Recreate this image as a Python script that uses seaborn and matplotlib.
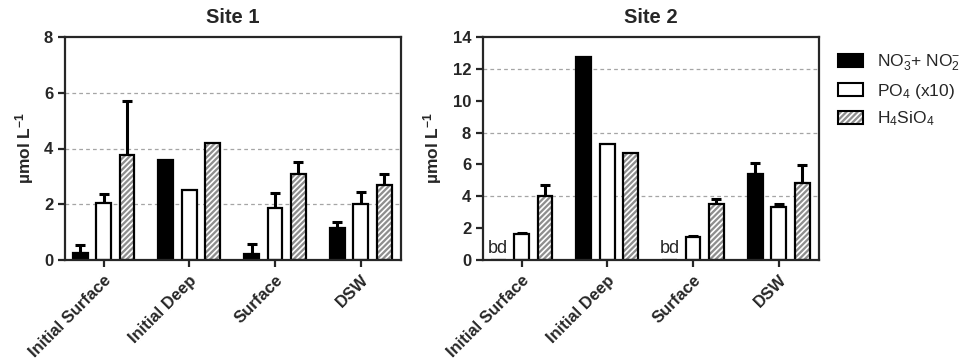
import numpy as np
import pandas as pd
import matplotlib
matplotlib.use("Agg")
import matplotlib.pyplot as plt
from matplotlib.patches import Patch, Rectangle
import seaborn as sns

# ---------------- data ----------------
categories = ["Initial Surface", "Initial Deep", "Surface", "DSW"]
nutrients = ["NO3", "PO4", "Si"]
legend_labels = [r"NO$_3^{-}$+ NO$_2^{-}$", "PO$_4$ (x10)", "H$_4$SiO$_4$"]

site1_no3 = [0.25, 3.60, 0.20, 1.14]
site1_po4 = [2.05, 2.50, 1.85, 2.00]
site1_si = [3.75, 4.20, 3.10, 2.69]
site1_no3_err = [0.30, 0.0, 0.38, 0.22]
site1_po4_err = [0.30, 0.0, 0.55, 0.43]
site1_si_err = [1.95, 0.0, 0.40, 0.39]

site2_no3 = [0.0, 12.76, 0.0, 5.40]
site2_po4 = [1.61, 7.26, 1.42, 3.31]
site2_si = [4.02, 6.74, 3.50, 4.85]
site2_no3_err = [0.0, 0.0, 0.0, 0.70]
site2_po4_err = [0.11, 0.0, 0.10, 0.19]
site2_si_err = [0.68, 0.0, 0.31, 1.11]
site2_bd = [True, False, True, False]  # below detection for NO3

titles = ["Site 1", "Site 2"]
ymax = [8, 14]
grid_lines = [[2, 4, 6], [4, 8, 12]]


def make_df(no3, po4, si, e1, e2, e3):
    rows = []
    for vals, errs, nut in [(no3, e1, "NO3"), (po4, e2, "PO4"), (si, e3, "Si")]:
        for c, v, e in zip(categories, vals, errs):
            rows.append(dict(category=c, nutrient=nut, value=v, err=e))
    return pd.DataFrame(rows)


dfs = [
    make_df(site1_no3, site1_po4, site1_si, site1_no3_err, site1_po4_err, site1_si_err),
    make_df(site2_no3, site2_po4, site2_si, site2_no3_err, site2_po4_err, site2_si_err),
]

# ---------------- style ----------------
sns.set_style("ticks")
plt.rcParams["font.family"] = ["Liberation Sans", "DejaVu Sans"]
plt.rcParams["mathtext.fontset"] = "custom"
plt.rcParams["mathtext.rm"] = "Liberation Sans"
plt.rcParams["mathtext.it"] = "Liberation Sans:italic"
plt.rcParams["mathtext.bf"] = "Liberation Sans:bold"
plt.rcParams["mathtext.default"] = "regular"
plt.rcParams["hatch.linewidth"] = 1.2

HATCH_FACE = "#8e8e8e"
palette = {"NO3": "black", "PO4": "white", "Si": HATCH_FACE}

fig = plt.figure(figsize=(9.79, 3.64), dpi=100)
ax_pos = [[65 / 979, 104 / 364, 336 / 979, 223 / 364],
          [483 / 979, 104 / 364, 336 / 979, 223 / 364]]

for k in range(2):
    ax = fig.add_axes(ax_pos[k])
    df = dfs[k]
    sns.barplot(data=df, x="category", y="value", hue="nutrient",
                hue_order=nutrients, order=categories, palette=palette,
                width=0.82, gap=0.36, errorbar=None, legend=False,
                edgecolor="black", linewidth=1.6, ax=ax, zorder=3)

    # hatching on the silicate bars: gray face, white stripes, black outline
    for bar in ax.containers[2]:
        bar.set_hatch("//////")
        bar.set_edgecolor("white")
        bar.set_linewidth(0)
        ax.add_patch(Rectangle(bar.get_xy(), bar.get_width(), bar.get_height(),
                               fill=False, edgecolor="black", linewidth=1.6, zorder=4))

    # error bars (upper only)
    for i, nut in enumerate(nutrients):
        sub = df[df.nutrient == nut].set_index("category").loc[categories]
        for bar, v, e in zip(ax.containers[i], sub["value"], sub["err"]):
            if e > 0:
                x = bar.get_x() + bar.get_width() / 2
                ax.errorbar(x, v, yerr=[[0], [e]], fmt="none", ecolor="black",
                            elinewidth=2.2, capsize=3.5, capthick=2.2, zorder=2)

    # grid lines
    for g in grid_lines[k]:
        ax.axhline(g, color="#a5a5a5", linestyle=(0, (3, 2.5)), linewidth=0.9, zorder=1)

    if k == 1:
        for bar, bd in zip(ax.containers[0], site2_bd):
            if bd:
                ax.text(bar.get_x() + bar.get_width() / 2, 0.2, "bd",
                        ha="center", va="bottom", fontsize=13)

    ax.set_xlim(-0.45, 3.47)
    ax.set_ylim(0, ymax[k])
    ax.set_yticks(np.arange(0, ymax[k] + 1, 2))
    ax.set_title(titles[k], fontsize=14.5, fontweight="bold", pad=10)
    ax.set_xlabel("")
    ax.set_ylabel(r"µmol L$^{\mathbf{-1}}$", fontsize=12.5, fontweight="bold", labelpad=6)
    for s in ax.spines.values():
        s.set_visible(True)
        s.set_linewidth(1.6)
        s.set_zorder(5)
    ax.tick_params(axis="both", direction="out", length=5, width=1.6, labelsize=12)
    for lab in ax.get_yticklabels():
        lab.set_fontweight("bold")
    ax.set_xticks(range(len(categories)))
    ax.set_xticklabels(categories, rotation=45, ha="right", rotation_mode="anchor",
                       fontweight="bold", fontsize=12)
    ax.tick_params(axis="x", pad=4)

# legend
h_no3 = Patch(facecolor="black", edgecolor="black", linewidth=1.5)
h_po4 = Patch(facecolor="white", edgecolor="black", linewidth=1.5)
h_si = (Patch(facecolor=HATCH_FACE, edgecolor="white", hatch="//////", linewidth=0),
        Patch(facecolor="none", edgecolor="black", linewidth=1.5))
fig.legend([h_no3, h_po4, h_si], legend_labels, loc="upper left",
           bbox_to_anchor=(822 / 979, 1 - 37 / 364), frameon=False, fontsize=12.5,
           handlelength=1.45, handleheight=0.8, labelspacing=0.5, handletextpad=0.8)

fig.savefig("out.png", dpi=100)
